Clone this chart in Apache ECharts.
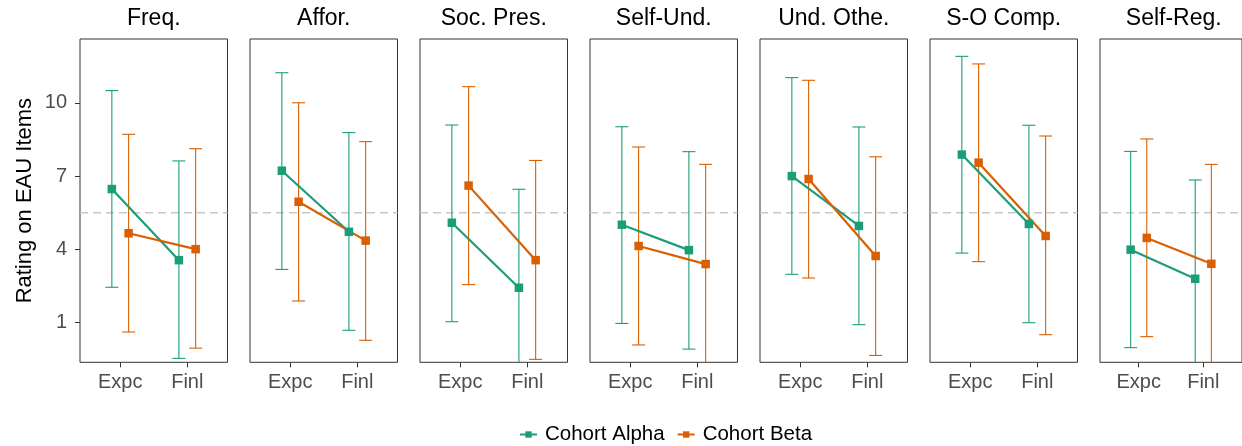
<!DOCTYPE html>
<html>
<head>
<meta charset="utf-8">
<script src="https://cdn.jsdelivr.net/npm/echarts@6/dist/echarts.min.js"></script>
<style>html,body{margin:0;padding:0;background:#fff}#c{width:1242px;height:446px}</style>
</head>
<body>
<div id="c"></div>
<script>
// ---- data ----
const panels = ['Freq.', 'Affor.', 'Soc. Pres.', 'Self-Und.', 'Und. Othe.', 'S-O Comp.', 'Self-Reg.'];
const categories = ['Expc', 'Finl'];
const cohorts = ['Cohort Alpha', 'Cohort Beta'];
const yTicks = [1, 4, 7, 10];
const refValue = 5.5;
// per panel: [Expc, Finl]
const alphaMean  = [[6.47, 3.56], [7.22, 4.72], [5.09, 2.43], [5.01, 3.97], [7.00, 4.96], [7.88, 5.04], [3.99, 2.80]];
const alphaUpper = [[10.50, 7.62], [11.23, 8.78], [9.09, 6.46], [9.02, 8.00], [11.03, 9.01], [11.90, 9.08], [8.01, 6.84]];
const alphaLower = [[2.45, -0.46], [3.18, 0.69], [1.04, -1.60], [0.97, -0.08], [2.98, 0.92], [3.85, 1.00], [-0.02, -1.24]];
const betaMean   = [[4.66, 4.01], [5.95, 4.36], [6.61, 3.56], [4.14, 3.40], [6.88, 3.73], [7.55, 4.55], [4.47, 3.41]];
const betaUpper  = [[8.71, 8.12], [10.00, 8.41], [10.66, 7.64], [8.19, 7.48], [10.92, 7.79], [11.59, 8.64], [8.52, 7.48]];
const betaLower  = [[0.62, -0.04], [1.89, 0.28], [2.56, -0.50], [0.09, -0.68], [2.83, -0.34], [3.50, 0.51], [0.43, -0.66]];

// ---- styling / layout ----
const colors = ['#1b9e77', '#d95f02'];
const dodge = [-0.125, 0.125];
const FONT = '"Liberation Sans", Arial, Helvetica, sans-serif';
const panelLeft0 = 80, panelStep = 170, panelW = 147.5, panelTop = 39, panelH = 323.3;
const xMin = 0.4, xMax = 2.6, yMin = -0.62, yMax = 12.61;

const means = [alphaMean, betaMean], uppers = [alphaUpper, betaUpper], lowers = [alphaLower, betaLower];

const grids = [], xAxes = [], yAxes = [], titles = [], series = [];

panels.forEach((name, p) => {
  const left = panelLeft0 + p * panelStep;
  grids.push({left: left, top: panelTop, width: panelW, height: panelH,
    show: true, borderColor: '#333', borderWidth: 1, backgroundColor: 'transparent', containLabel: false});
  titles.push({text: name, left: left + panelW / 2, top: 7, padding: 0, textAlign: 'center',
    textStyle: {fontFamily: FONT, fontSize: 23, fontWeight: 'normal', color: '#000'}});
  xAxes.push({type: 'value', gridIndex: p, min: xMin, max: xMax, position: 'bottom',
    axisLine: {show: false, onZero: false}, splitLine: {show: false},
    axisTick: {show: true, length: 5, lineStyle: {color: '#333'}, customValues: categories.map((c, i) => i + 1)},
    axisLabel: {show: true, margin: 10, fontFamily: FONT, fontSize: 20, color: '#4d4d4d',
      customValues: categories.map((c, i) => i + 1),
      formatter: v => categories[Math.round(v) - 1] || ''}
  });
  yAxes.push({type: 'value', gridIndex: p, min: yMin, max: yMax, position: 'left',
    axisLine: {show: false, onZero: false}, splitLine: {show: false},
    axisTick: {show: p === 0, length: 5, lineStyle: {color: '#333'}, customValues: yTicks},
    axisLabel: {show: p === 0, margin: 13, fontFamily: FONT, fontSize: 20, color: '#4d4d4d', customValues: yTicks},
    name: p === 0 ? 'Rating on EAU Items' : '', nameLocation: 'middle', nameGap: 44,
    nameTextStyle: {fontFamily: FONT, fontSize: 22, color: '#000'}
  });
  // reference dashed line
  series.push({type: 'line', xAxisIndex: p, yAxisIndex: p, silent: true, symbol: 'none', z: 1,
    data: [[xMin, refValue], [xMax, refValue]],
    lineStyle: {color: '#c8c8c8', width: 1.3, type: [8, 5]}, tooltip: {show: false}});
  cohorts.forEach((cName, k) => {
    const errData = categories.map((c, i) => [i + 1 + dodge[k], lowers[k][p][i], uppers[k][p][i]]);
    series.push({type: 'custom', xAxisIndex: p, yAxisIndex: p, z: 2, silent: true,
      data: errData,
      renderItem: function (params, api) {
        const x = api.value(0), lo = api.value(1), hi = api.value(2);
        const cs = params.coordSys;
        const pHi = api.coord([x, hi]);
        const pLo = api.coord([x, lo]);
        const bottom = cs.y + cs.height, top = cs.y;
        const yHi = Math.max(pHi[1], top), yLo = Math.min(pLo[1], bottom);
        const hw = 6.5;
        const st = {stroke: colors[k], lineWidth: 1.1};
        const ch = [{type: 'line', shape: {x1: pHi[0], y1: yHi, x2: pHi[0], y2: yLo}, style: st}];
        if (pHi[1] >= top) ch.push({type: 'line', shape: {x1: pHi[0] - hw, y1: pHi[1], x2: pHi[0] + hw, y2: pHi[1]}, style: st});
        if (pLo[1] <= bottom) ch.push({type: 'line', shape: {x1: pLo[0] - hw, y1: pLo[1], x2: pLo[0] + hw, y2: pLo[1]}, style: st});
        return {type: 'group', children: ch};
      }
    });
  });
  cohorts.forEach((cName, k) => {
    series.push({type: 'line', name: cName, xAxisIndex: p, yAxisIndex: p, z: 3,
      data: categories.map((c, i) => [i + 1 + dodge[k], means[k][p][i]]),
      symbol: 'rect', symbolSize: 8.5, showSymbol: true,
      itemStyle: {color: colors[k]}, lineStyle: {color: colors[k], width: 2.2}});
  });
});

const chart = echarts.init(document.getElementById('c'), null, {renderer: 'canvas'});
chart.setOption({
  animation: false,
  backgroundColor: '#fff',
  title: titles,
  grid: grids,
  xAxis: xAxes,
  yAxis: yAxes,
  legend: {data: cohorts, left: 519, top: 424, padding: 0, itemWidth: 17, itemHeight: 8, itemGap: 12,
    textStyle: {fontFamily: FONT, fontSize: 20.5, color: '#000', padding: [0, 0, 0, 3]}},
  series: series
});
</script>
</body>
</html>
